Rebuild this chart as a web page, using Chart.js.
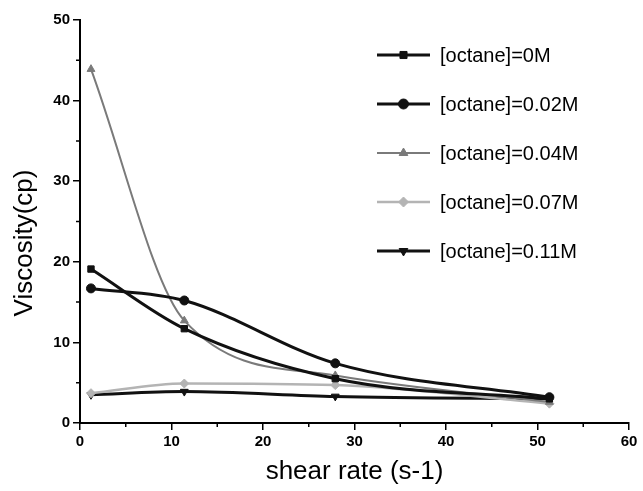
<!DOCTYPE html>
<html>
<head>
<meta charset="utf-8">
<script src="https://cdn.jsdelivr.net/npm/chart.js@4.4.0/dist/chart.umd.min.js"></script>
<style>
  html, body { margin: 0; padding: 0; background: #fff; }
  #wrap { width: 643px; height: 491px; }
</style>
</head>
<body>
<div id="wrap"><canvas id="viscChart"></canvas></div>
<script>
// shear rate values (s-1)
const shearRate = [1.2, 11.4, 27.9, 51.3];
const seriesLabels = ["[octane]=0M", "[octane]=0.02M", "[octane]=0.04M", "[octane]=0.07M", "[octane]=0.11M"];
const visc0 = [19.1, 11.7, 5.5, 3.0];
const visc002 = [16.7, 15.2, 7.4, 3.2];
const visc004 = [43.9, 12.7, 5.9, 2.6];
const visc007 = [3.7, 4.9, 4.7, 2.4];
const visc011 = [3.5, 3.9, 3.3, 3.0];

const xTicks = [0, 10, 20, 30, 40, 50, 60];
const yTicks = [0, 10, 20, 30, 40, 50];
const yTitle = 'Viscosity(cp)';

const FONT = "'Liberation Sans', Arial, sans-serif";

function pts(vals) {
  return vals.map((v, i) => ({ x: shearRate[i], y: v }));
}

function makeSet(label, vals, color, width, style, rot) {
  return {
    label: label,
    data: pts(vals),
    borderColor: color,
    backgroundColor: color,
    borderWidth: width,
    pointStyle: style,
    pointRotation: rot || 0,
    pointRadius: 4.5,
    pointBorderWidth: 1,
    cubicInterpolationMode: 'monotone',
    fill: false
  };
}

// legend drawn inside the plot, one entry per row
const insideLegend = {
  id: 'insideLegend',
  afterDraw(chart) {
    const ctx = chart.ctx;
    const x0 = 377, x1 = 430, tx = 440;
    let y = 55;
    ctx.save();
    chart.data.datasets.forEach(ds => {
      ctx.strokeStyle = ds.borderColor;
      ctx.lineWidth = ds.borderWidth;
      ctx.beginPath();
      ctx.moveTo(x0, y);
      ctx.lineTo(x1, y);
      ctx.stroke();
      ctx.fillStyle = ds.backgroundColor;
      ctx.lineWidth = 1;
      Chart.helpers.drawPoint(ctx, {
        pointStyle: ds.pointStyle, rotation: ds.pointRotation, radius: 5, borderWidth: 1
      }, (x0 + x1) / 2, y);
      ctx.fillStyle = '#000';
      ctx.font = '20px ' + FONT;
      ctx.textBaseline = 'middle';
      ctx.textAlign = 'left';
      ctx.fillText(ds.label, tx, y + 1);
      y += 49;
    });
    // y axis title, sits a little below the middle of the axis
    ctx.translate(25, 243);
    ctx.rotate(-Math.PI / 2);
    ctx.font = '26px ' + FONT;
    ctx.textAlign = 'center';
    ctx.fillText(yTitle, 0, 0);
    ctx.restore();
  }
};

// minor ticks halfway between the labelled ones
const minorTicks = {
  id: 'minorTicks',
  afterDraw(chart) {
    const ctx = chart.ctx;
    const xs = chart.scales.x, ys = chart.scales.y;
    ctx.save();
    ctx.strokeStyle = '#000';
    ctx.lineWidth = 1.5;
    ctx.beginPath();
    for (let v = 5; v < 60; v += 10) {
      const px = xs.getPixelForValue(v);
      ctx.moveTo(px, ys.bottom);
      ctx.lineTo(px, ys.bottom + 4);
    }
    for (let v = 5; v < 50; v += 10) {
      const py = ys.getPixelForValue(v);
      ctx.moveTo(xs.left, py);
      ctx.lineTo(xs.left - 4, py);
    }
    ctx.stroke();
    ctx.restore();
  }
};

new Chart(document.getElementById('viscChart'), {
  type: 'line',
  data: {
    datasets: [
      makeSet(seriesLabels[0], visc0, '#111', 3, 'rect'),
      makeSet(seriesLabels[1], visc002, '#111', 3, 'circle'),
      makeSet(seriesLabels[2], visc004, '#7a7a7a', 2, 'triangle'),
      makeSet(seriesLabels[3], visc007, '#b4b4b4', 2.5, 'rectRot'),
      makeSet(seriesLabels[4], visc011, '#111', 3, 'triangle', 180)
    ]
  },
  options: {
    responsive: true,
    maintainAspectRatio: false,
    animation: false,
    layout: { padding: { top: 20, right: 14, bottom: 0, left: 8 } },
    plugins: {
      legend: { display: false },
      tooltip: { enabled: false }
    },
    scales: {
      x: {
        type: 'linear',
        min: 0, max: 60,
        border: { color: '#000', width: 2 },
        grid: { display: true, drawOnChartArea: false, color: '#000', lineWidth: 1.5, tickLength: 7 },
        afterBuildTicks: s => { s.ticks = xTicks.map(v => ({ value: v })); },
        afterFit: s => { s.height = 68; },
        ticks: { color: '#000', font: { family: FONT, size: 15, weight: 'bold' }, padding: 3, maxRotation: 0 },
        title: { display: true, text: 'shear rate (s-1)', color: '#000', font: { family: FONT, size: 26 }, padding: { top: 6 } }
      },
      y: {
        type: 'linear',
        min: 0, max: 50,
        border: { color: '#000', width: 2 },
        grid: { display: true, drawOnChartArea: false, color: '#000', lineWidth: 1.5, tickLength: 7 },
        afterBuildTicks: s => { s.ticks = yTicks.map(v => ({ value: v })); },
        afterFit: s => { s.width = 72; },
        ticks: { color: '#000', font: { family: FONT, size: 15, weight: 'bold' }, padding: 3 },
        title: { display: false }
      }
    }
  },
  plugins: [insideLegend, minorTicks]
});
</script>
</body>
</html>
